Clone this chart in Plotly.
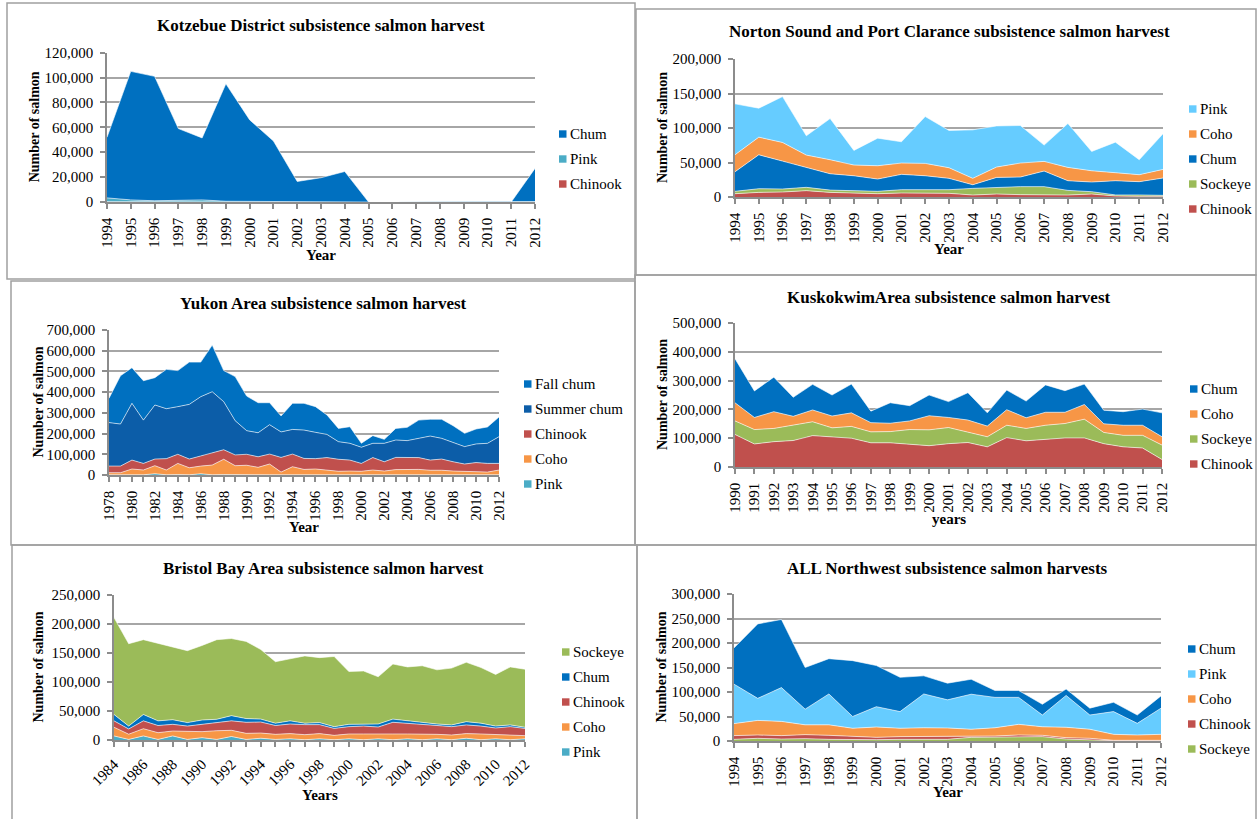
import plotly.graph_objects as go

W, H = 1257, 819
FONT = "Liberation Serif, Times New Roman, serif"

# colours used by the source workbook
CHUM = "#0070C0"
SUMMER_CHUM = "#0C5DA8"
PINK_TEAL = "#4BACC6"
PINK_LIGHT = "#66CCFF"
CHINOOK = "#C0504D"
COHO = "#F79646"
SOCKEYE = "#9BBB59"
GRID = "#A6A6A6"
AXIS = "#8C8C8C"
BORDER = "#A0A0A0"

# ---------------- data ----------------
kotz_years = list(range(1994, 2013))
kotz_chinook = [300, 200, 200, 200, 200, 100, 100, 100, 0, 0, 0, 0, 0, 0, 0, 0, 0, 0, 100]
kotz_pink = [3000, 1500, 800, 1000, 1500, 500, 300, 300, 200, 200, 200, 0, 0, 0, 0, 0, 0, 0, 300]
kotz_chum = [48700, 103300, 100000, 57800, 49800, 94400, 65600, 48600, 16300, 19300, 24300,
             0, 0, 0, 0, 0, 0, 0, 26600]

norton_years = list(range(1994, 2013))
norton_chinook = [4800, 6700, 7200, 9200, 6700, 5300, 4800, 5800, 5800, 5300, 2900, 4300, 3400,
                  3400, 2900, 4300, 1500, 1000, 1000]
norton_sockeye = [3400, 5300, 4400, 4800, 3300, 3400, 3400, 4800, 4800, 5300, 9600, 9700, 11600,
                  11600, 6700, 3400, 1500, 2000, 1400]
norton_chum = [28400, 49200, 40400, 29400, 23700, 22100, 17800, 22200, 20200, 16400, 5300, 14400,
               13900, 22600, 14000, 14000, 20600, 19200, 25100]
norton_coho = [24600, 25500, 27000, 17300, 20300, 15500, 19300, 16400, 17900, 15400, 9200, 15000,
               20300, 14000, 19300, 16300, 11600, 10100, 12500]
norton_pink = [73800, 42000, 66500, 28000, 59700, 21200, 40000, 30800, 67900, 54000, 70300, 59600,
               54400, 23600, 63600, 28000, 44300, 21700, 51600]

yukon_years = list(range(1978, 2013))
yukon_pink = [1000, 1000, 2000, 1000, 6000, 1000, 2000, 1000, 6000, 1000, 2000, 1000, 1000, 1000,
              1000, 1000, 1000, 1000, 1000, 1000, 1000, 1000, 1000, 1000, 1000, 1000, 1000, 1000,
              1000, 1000, 1000, 1000, 1000, 1000, 1000]
yukon_coho = [10000, 10000, 27000, 23000, 39000, 23000, 54000, 34000, 37000, 47000, 74000, 44000,
              46000, 36000, 52000, 13000, 39000, 26000, 28000, 23000, 17000, 18000, 17000, 23000,
              18000, 25000, 26000, 26000, 22000, 22000, 18000, 18000, 15000, 13000, 23000]
yukon_chinook = [32000, 32000, 43000, 32000, 32000, 55000, 44000, 42000, 49000, 60000, 46000, 52000,
                 53000, 51000, 48000, 71000, 61000, 53000, 50000, 60000, 58000, 53000, 38000, 60000,
                 45000, 59000, 58000, 57000, 49000, 54000, 45000, 34000, 44000, 42000, 32000]
yukon_summer_chum = [210000, 203000, 274000, 209000, 261000, 241000, 230000, 264000, 286000,
                     294000, 232000, 165000, 114000, 116000, 142000, 123000, 119000, 137000,
                     127000, 112000, 85000, 81000, 78000, 69000, 89000, 84000, 81000, 93000,
                     116000, 100000, 92000, 84000, 90000, 97000, 129000]
yukon_fall_chum = [117000, 233000, 172000, 190000, 132000, 190000, 174000, 204000, 167000, 225000,
                   150000, 213000, 167000, 145000, 106000, 77000, 126000, 129000, 124000, 94000,
                   64000, 80000, 19000, 37000, 19000, 56000, 64000, 88000, 81000, 92000, 82000,
                   64000, 72000, 79000, 95000]

kusko_years = list(range(1990, 2013))
kusko_chinook = [113000, 80000, 88000, 92000, 109000, 105000, 100000, 84000, 84000, 79000, 74000,
                 81000, 85000, 70000, 102000, 91000, 97000, 101000, 101000, 81000, 70000, 66000,
                 26000]
kusko_sockeye = [47000, 50000, 46000, 53000, 48000, 31000, 41000, 38000, 39000, 51000, 55000,
                 56000, 36000, 35000, 43000, 43000, 48000, 50000, 65000, 39000, 40000, 44000, 50000]
kusko_coho = [63000, 42000, 58000, 31000, 41000, 41000, 47000, 32000, 29000, 30000, 49000, 35000,
              42000, 37000, 54000, 37000, 45000, 39000, 51000, 30000, 35000, 35000, 29000]
kusko_chum = [153000, 92000, 120000, 66000, 89000, 73000, 100000, 40000, 71000, 53000, 72000,
              55000, 95000, 46000, 68000, 58000, 95000, 75000, 71000, 47000, 47000, 56000, 83000]

bristol_years = list(range(1984, 2013))
bristol_pink = [7000, 1000, 7000, 1000, 7000, 1000, 4000, 1000, 6000, 1000, 3000, 1000, 2000, 500,
                2000, 500, 2000, 500, 2000, 500, 2000, 500, 2000, 500, 3000, 500, 2000, 500, 2000]
bristol_coho = [15000, 9000, 12500, 11600, 8500, 13400, 10400, 15000, 10700, 10500, 9000, 8800,
                9000, 8700, 9000, 7500, 8400, 9900, 7800, 9900, 8400, 9900, 7800, 8100, 8000, 9900,
                7200, 8700, 5500]
bristol_chinook = [11000, 9000, 13500, 12400, 11500, 9600, 12600, 14500, 16300, 19000, 19000, 15200,
                   16600, 17300, 15500, 12000, 12600, 13600, 12600, 20100, 18600, 16600, 15200,
                   14400, 15000, 13600, 11500, 13800, 12500]
bristol_chum = [11000, 5000, 11000, 8000, 8000, 6000, 7500, 5200, 9000, 6500, 5000, 4000, 5400,
                2500, 3500, 3000, 4000, 3600, 5200, 5500, 4000, 3500, 2600, 3000, 5600, 5000, 3300,
                3000, 2000]
bristol_sockeye = [167000, 142000, 129000, 134000, 126000, 124000, 128500, 137300, 133000, 133000,
                   120000, 106000, 107000, 116000, 112000, 121000, 91000, 91400, 81400, 95000,
                   93000, 97500, 93400, 98000, 102400, 96000, 89000, 100000, 100000]

all_years = list(range(1994, 2013))
all_sockeye = [3400, 5500, 4000, 4800, 3400, 2700, 2700, 3400, 3400, 3400, 7500, 7500, 8900, 8900,
               4000, 2000, 700, 700, 700]
all_chinook = [7600, 6800, 7000, 8200, 8200, 6200, 4800, 5500, 5500, 5500, 2700, 2700, 3400, 2700,
               2800, 3500, 700, 700, 700]
all_coho = [24500, 29700, 29000, 20000, 21400, 17100, 21100, 17100, 18100, 17700, 13800, 16800,
            21700, 17400, 21200, 18500, 12200, 10900, 12200]
all_pink = [80500, 45000, 69000, 32000, 63000, 24000, 41400, 34000, 69000, 57400, 71500, 62000,
            55000, 24000, 65000, 29000, 46400, 23700, 53400]
all_chum = [74000, 152000, 139000, 85000, 72000, 114000, 84000, 70000, 37000, 34000, 30500, 14000,
            14000, 22000, 13000, 14000, 19000, 17000, 25000]

# ---------------- panel setup (pixel boxes) ----------------
# series listed bottom -> top of the stack, legend shows them top -> bottom
panels = [
    dict(title="Kotzebue District subsistence salmon harvest", xlabel="Year",
         years=kotz_years, ymax=120000, dtick=20000, xstep=1, angle=-90,
         series=[("Chinook", kotz_chinook, CHINOOK), ("Pink", kotz_pink, PINK_TEAL),
                 ("Chum", kotz_chum, CHUM)],
         plot=(107, 535, 52.7, 202), box=(7, 3, 635, 279),
         title_xy=(321, 25), xlab_y=255, ylab_x=34, leg=(559, 134)),
    dict(title="Norton Sound and Port Clarance subsistence salmon harvest", xlabel="Year",
         years=norton_years, ymax=200000, dtick=50000, xstep=1, angle=-90,
         series=[("Chinook", norton_chinook, CHINOOK), ("Sockeye", norton_sockeye, SOCKEYE),
                 ("Chum", norton_chum, CHUM), ("Coho", norton_coho, COHO),
                 ("Pink", norton_pink, PINK_LIGHT)],
         plot=(735, 1163, 59, 197), box=(636, 9, 1256, 275),
         title_xy=(949, 32), xlab_y=249, ylab_x=662, leg=(1189, 109)),
    dict(title="Yukon Area subsistence salmon harvest", xlabel="Year",
         years=yukon_years, ymax=700000, dtick=100000, xstep=2, angle=-90,
         series=[("Pink", yukon_pink, PINK_TEAL), ("Coho", yukon_coho, COHO),
                 ("Chinook", yukon_chinook, CHINOOK),
                 ("Summer chum", yukon_summer_chum, SUMMER_CHUM),
                 ("Fall chum", yukon_fall_chum, CHUM)],
         plot=(109, 499, 330, 475), box=(11, 281, 635, 545),
         title_xy=(323, 303), xlab_y=527, ylab_x=38, leg=(524, 384)),
    dict(title="KuskokwimArea subsistence salmon harvest", xlabel="years",
         years=kusko_years, ymax=500000, dtick=100000, xstep=1, angle=-90,
         series=[("Chinook", kusko_chinook, CHINOOK), ("Sockeye", kusko_sockeye, SOCKEYE),
                 ("Coho", kusko_coho, COHO), ("Chum", kusko_chum, CHUM)],
         plot=(735, 1162, 323, 467), box=(635, 275, 1256, 545),
         title_xy=(949, 297), xlab_y=519, ylab_x=662, leg=(1190, 389)),
    dict(title="Bristol Bay Area subsistence salmon harvest", xlabel="Years",
         years=bristol_years, ymax=250000, dtick=50000, xstep=2, angle=-45,
         series=[("Pink", bristol_pink, PINK_TEAL), ("Coho", bristol_coho, COHO),
                 ("Chinook", bristol_chinook, CHINOOK), ("Chum", bristol_chum, CHUM),
                 ("Sockeye", bristol_sockeye, SOCKEYE)],
         plot=(114, 525, 595, 740), box=(12, 545, 637, 830),
         title_xy=(323, 568), xlab_y=795, ylab_x=38, leg=(562, 652)),
    dict(title="ALL Northwest subsistence salmon harvests", xlabel="Year",
         years=all_years, ymax=300000, dtick=50000, xstep=1, angle=-90,
         series=[("Sockeye", all_sockeye, SOCKEYE), ("Chinook", all_chinook, CHINOOK),
                 ("Coho", all_coho, COHO), ("Pink", all_pink, PINK_LIGHT),
                 ("Chum", all_chum, CHUM)],
         plot=(734, 1161, 594, 741), box=(637, 545, 1256, 830),
         title_xy=(947, 568), xlab_y=792, ylab_x=661, leg=(1188, 649)),
]


def fx(px):
    return px / W


def fy(py):
    return 1 - py / H


fig = go.Figure()
annotations = []
shapes = []

for i, p in enumerate(panels, start=1):
    sfx = "" if i == 1 else str(i)
    for name, vals, color in p["series"]:
        fig.add_trace(go.Scatter(x=p["years"], y=vals, name=name, mode="lines",
                                 stackgroup=f"g{i}", fillcolor=color,
                                 line=dict(width=0.6, color="white"),
                                 xaxis="x" + sfx, yaxis="y" + sfx, showlegend=False))

    x0, x1, ytop, ybot = p["plot"]
    xaxis = dict(
        domain=[fx(x0), fx(x1)], anchor="y" + sfx, range=[p["years"][0], p["years"][-1]],
        tickmode="linear", tick0=p["years"][0], dtick=p["xstep"], tickangle=p["angle"],
        ticks="outside", ticklen=5, tickcolor=AXIS, tickwidth=1.5, showline=True,
        linecolor=AXIS, linewidth=1.5, showgrid=False, zeroline=False, automargin=False,
        ticklabelstandoff=3, tickfont=dict(family=FONT, size=15, color="black"),
    )
    if p["xstep"] > 1:
        xaxis["minor"] = dict(dtick=1, ticks="outside", ticklen=5, tickcolor=AXIS, tickwidth=1.5)
    fig.layout["xaxis" + sfx] = xaxis
    fig.layout["yaxis" + sfx] = dict(
        domain=[fy(ybot), fy(ytop)], anchor="x" + sfx, range=[0, p["ymax"]],
        dtick=p["dtick"], tickformat=",d", ticks="outside", ticklen=5, tickcolor=AXIS,
        tickwidth=1.5, showline=True, linecolor=AXIS, linewidth=1.5, showgrid=True,
        gridcolor=GRID, gridwidth=2, zeroline=False, automargin=False,
        ticklabelstandoff=4, tickfont=dict(family=FONT, size=15, color="black"),
    )

    # panel frame
    bx0, by0, bx1, by1 = p["box"]
    shapes.append(dict(type="rect", xref="paper", yref="paper", x0=fx(bx0), x1=fx(bx1),
                       y0=fy(by1), y1=fy(by0), line=dict(color=BORDER, width=1.5)))

    # titles
    tx, ty = p["title_xy"]
    annotations.append(dict(text=f"<b>{p['title']}</b>", x=fx(tx), y=fy(ty), xref="paper",
                            yref="paper", showarrow=False, xanchor="center", yanchor="middle",
                            font=dict(family=FONT, size=17, color="black")))
    annotations.append(dict(text=f"<b>{p['xlabel']}</b>", x=fx((x0 + x1) / 2), y=fy(p["xlab_y"]),
                            xref="paper", yref="paper", showarrow=False, xanchor="center",
                            yanchor="middle", font=dict(family=FONT, size=15, color="black")))
    annotations.append(dict(text="<b>Number of salmon</b>", x=fx(p["ylab_x"]),
                            y=fy((ytop + ybot) / 2), xref="paper", yref="paper",
                            showarrow=False, textangle=-90, xanchor="center", yanchor="middle",
                            font=dict(family=FONT, size=14, color="black")))

    # legend (top of stack first)
    lx, ly = p["leg"]
    for k, (name, vals, color) in enumerate(reversed(p["series"])):
        yc = ly + 25 * k
        shapes.append(dict(type="rect", xref="paper", yref="paper", x0=fx(lx), x1=fx(lx + 7.5),
                           y0=fy(yc + 3.7), y1=fy(yc - 3.7), fillcolor=color, line_width=0))
        annotations.append(dict(text=name, x=fx(lx + 9), y=fy(yc), xref="paper", yref="paper",
                                showarrow=False, xanchor="left", yanchor="middle",
                                font=dict(family=FONT, size=15, color="black")))

fig.update_layout(width=W, height=H,
                  margin=dict(l=0, r=0, t=0, b=0, pad=0, autoexpand=False),
                  paper_bgcolor="white", plot_bgcolor="white",
                  annotations=annotations, shapes=shapes)

# the page body has a default 8px margin; drop it so the figure fills the window
fig.write_html("out.html", config={"displayModeBar": False},
               post_script="document.body.style.margin = '0';")
